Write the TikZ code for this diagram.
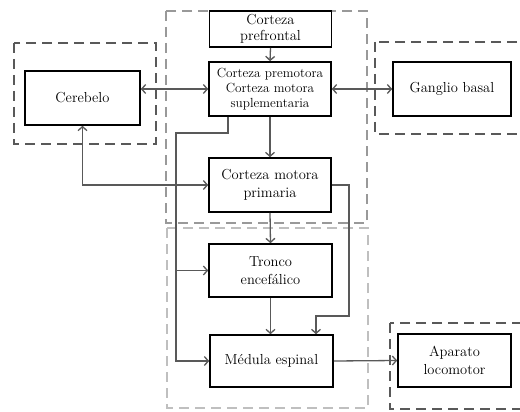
\documentclass[tikz,border=0pt]{standalone}
\usetikzlibrary{arrows.meta}
\begin{document}
\begin{tikzpicture}[x=1pt,y=-1pt,>={Straight Barb[length=4pt,width=9pt]},
box/.style={draw=black,line width=1.6pt,align=center,inner sep=0pt,font=\fontsize{14.5}{17.5}\selectfont},
link/.style={draw=black!65,line width=1.3pt},
grp/.style={line width=2.4pt,dash pattern=on 10pt off 6pt}]
\useasboundingbox (0,0) rectangle (520,412);
\draw[grp,black!65] (14,43) rectangle (156,144);
\draw[grp,black!65] (375,42) rectangle (530,134);
\draw[grp,black!65] (390,323) rectangle (530,409);
\draw[grp,black!40,line width=1.8pt] (166,11) rectangle (367,223);
\draw[grp,black!25,line width=1.8pt] (167,228) rectangle (368,408);
\node[box,minimum width=122pt,minimum height=36pt,font=\fontsize{14.5}{16}\selectfont] (pre) at (270.5,29) {Corteza\\prefrontal};
\node[box,minimum width=122pt,minimum height=54pt,font=\fontsize{13.2}{15}\selectfont] (prem) at (270,89) {Corteza premotora\\Corteza motora\\suplementaria};
\node[box,minimum width=115pt,minimum height=54pt] (cer) at (82.5,98) {Cerebelo};
\node[box,minimum width=118pt,minimum height=54pt] (gan) at (452,89) {Ganglio basal};
\node[box,minimum width=122pt,minimum height=54pt] (pri) at (270,185) {Corteza motora\\primaria};
\node[box,minimum width=123pt,minimum height=53pt] (tro) at (270.5,270.5) {Tronco\\encef\'alico};
\node[box,minimum width=123pt,minimum height=52pt] (med) at (271.5,361) {M\'edula espinal};
\node[box,minimum width=113pt,minimum height=53pt] (apa) at (454.5,360.5) {Aparato\\locomotor};
\coordinate (bus) at (176,133);
\draw[link,->] (pre.south) -- (prem.north);
\draw[link,->] (prem.south) -- (pri.north);
\draw[link,->] (pri.south) -- (tro.north);
\draw[link,->] (tro.south) -- (tro.south |- med.north);
\draw[link,->] (med.east) -- (apa.west);
\draw[link,<->] (cer.east |- prem.west) -- (prem.west);
\draw[link,<->] (prem.east) -- (gan.west);
\draw[link,<->] (cer.south) |- (pri.west);
\draw[link,->] ([xshift=-42pt]prem.south) |- (bus) |- (tro.west);
\draw[link,->] (bus) |- (med.west);
\draw[link,->] (pri.east) -| (349,316) -| ([xshift=44.5pt]med.north);
\end{tikzpicture}
\end{document}
